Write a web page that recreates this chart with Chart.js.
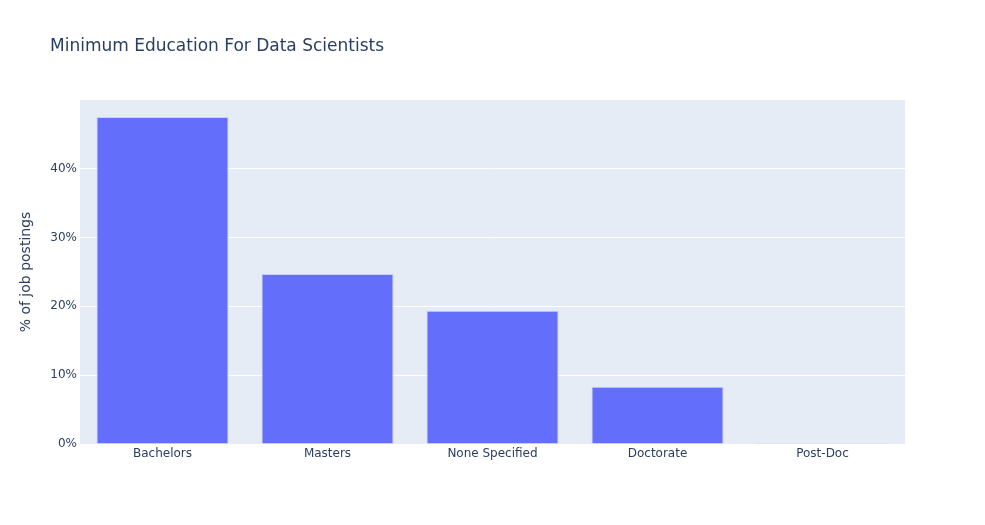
<!DOCTYPE html>
<html lang="en">
  <head>
    <meta charset="UTF-8" />
    <title>Minimum Education For Data Scientists</title>
    <script src="https://cdn.jsdelivr.net/npm/chart.js"></script>
    <style>
      body { margin: 0; background: #fff; }
    </style>
  </head>
  <body>
    <canvas id="eduChart" width="985" height="525"></canvas>
    <script>
      // data (percent of job postings)
      const levels = ["Bachelors", "Masters", "None Specified", "Doctorate", "Post-Doc"];
      const pctPostings = [47.5, 24.7, 19.35, 8.3, 0.12];
      const yTicks = [0, 10, 20, 30, 40];

      const FONT = "'DejaVu Sans', verdana, arial, sans-serif";
      const INK = "#2a3f5f";

      // plot background + title drawn by hand, plotly-style
      const plotBg = {
        id: "plotBg",
        beforeDraw(chart) {
          const { ctx, chartArea: a } = chart;
          ctx.save();
          ctx.fillStyle = "#E5ECF6";
          ctx.fillRect(a.left, a.top, a.right - a.left, a.bottom - a.top);
          ctx.restore();
        },
        afterDraw(chart) {
          const ctx = chart.ctx;
          ctx.save();
          ctx.font = "17px " + FONT;
          ctx.fillStyle = INK;
          ctx.textBaseline = "alphabetic";
          ctx.fillText("Minimum Education For Data Scientists", 50, 51);
          ctx.restore();
        },
      };

      new Chart(document.getElementById("eduChart"), {
        type: "bar",
        data: {
          labels: levels,
          datasets: [
            {
              data: pctPostings,
              backgroundColor: "#636efa",
              borderColor: "rgba(200,205,250,0.9)",
              borderWidth: 1,
              categoryPercentage: 0.8,
              barPercentage: 1,
            },
          ],
        },
        options: {
          responsive: false,
          animation: false,
          layout: { padding: { left: 0, top: 100, right: 80, bottom: 0 } },
          plugins: {
            legend: { display: false },
            tooltip: { enabled: false },
          },
          scales: {
            x: {
              grid: { display: false, drawTicks: false },
              border: { display: false },
              ticks: { color: INK, font: { family: FONT, size: 12 }, padding: 3, maxRotation: 0 },
              afterFit(s) { s.height = 81; },
            },
            y: {
              min: 0,
              max: 49.96,
              afterBuildTicks(s) { s.ticks = yTicks.map((v) => ({ value: v })); },
              grid: { color: "#ffffff", lineWidth: 1, drawTicks: false },
              border: { display: false },
              ticks: {
                color: INK,
                font: { family: FONT, size: 12 },
                padding: 3,
                callback: (v) => v + "%",
              },
              title: {
                display: true,
                text: "% of job postings",
                color: INK,
                font: { family: FONT, size: 14 },
                padding: { top: 18, bottom: 0 },
              },
              afterFit(s) { s.width = 80; },
            },
          },
        },
        plugins: [plotBg],
      });
    </script>
  </body>
</html>
